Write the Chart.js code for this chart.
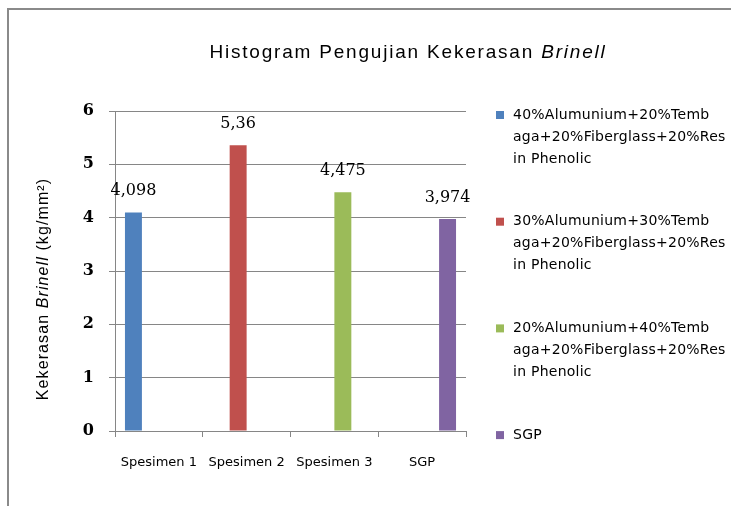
<!DOCTYPE html>
<html><head><meta charset="utf-8">
<script src="https://cdn.jsdelivr.net/npm/chart.js@4"></script>
<style>
html,body{margin:0;padding:0;background:#fff;overflow:hidden;width:731px;height:506px}
#frame{position:absolute;left:7px;top:8px;width:724px;height:498px;border-top:2px solid #8a8a8a;border-left:2px solid #8a8a8a;box-sizing:border-box}
#wrap{position:absolute;left:0;top:0;width:731px;height:506px}
</style></head><body>
<div id="frame"></div>
<div id="wrap"><canvas id="c" width="731" height="506"></canvas></div>
<script>
const categories = ['Spesimen 1', 'Spesimen 2', 'Spesimen 3', 'SGP'];
const seriesLabels = [
  ['40%Alumunium+20%Temb', 'aga+20%Fiberglass+20%Res', 'in Phenolic'],
  ['30%Alumunium+30%Temb', 'aga+20%Fiberglass+20%Res', 'in Phenolic'],
  ['20%Alumunium+40%Temb', 'aga+20%Fiberglass+20%Res', 'in Phenolic'],
  ['SGP']
];
const series1 = [4.098, null, null, null];
const series2 = [null, 5.36, null, null];
const series3 = [null, null, 4.475, null];
const series4 = [null, null, null, 3.974];
const yTicks = [0, 1, 2, 3, 4, 5, 6];
const colors = ['#4F81BD', '#C0504D', '#9BBB59', '#8064A2'];
const titleParts = ['Histogram Pengujian Kekerasan ', 'Brinell'];
const yTitleParts = ['Kekerasan ', 'Brinell', ' (kg/mm²)'];

const seriesData = [series1, series2, series3, series4];
const datasets = seriesData.map((d, i) => ({
  label: seriesLabels[i],
  data: d,
  backgroundColor: colors[i],
  borderWidth: 0,
  barPercentage: 1,
  categoryPercentage: 0.773
}));

function fmt(v) { return String(v).replace('.', ','); }

function drawParts(ctx, parts, fonts, cx, y, spacing) {
  ctx.letterSpacing = spacing;
  let total = 0; const ws = [];
  parts.forEach((p, i) => { ctx.font = fonts[i]; const w = ctx.measureText(p).width; ws.push(w); total += w; });
  let x = cx - total / 2;
  parts.forEach((p, i) => { ctx.font = fonts[i]; ctx.fillText(p, x, y); x += ws[i]; });
  ctx.letterSpacing = '0px';
}

const decor = {
  id: 'decor',
  afterDraw(chart) {
    const ctx = chart.ctx;
    ctx.save();
    ctx.fillStyle = '#000';
    ctx.textAlign = 'left';
    // title
    ctx.textBaseline = 'alphabetic';
    const f1 = '19px "Liberation Sans", Arial, sans-serif';
    const f2 = 'italic 19px "Liberation Sans", Arial, sans-serif';
    drawParts(ctx, titleParts, [f1, f2], 408, 58, '1.8px');

    // y axis title
    ctx.save();
    ctx.translate(44, 289);
    ctx.rotate(-Math.PI / 2);
    ctx.textBaseline = 'middle';
    const fn = '16px "Liberation Sans", Arial, sans-serif';
    const fi = 'italic 16px "Liberation Sans", Arial, sans-serif';
    drawParts(ctx, yTitleParts, [fn, fi, fn], 0, 0, '1.1px');
    ctx.restore();

    // value labels
    ctx.font = '16px "DejaVu Serif", serif';
    ctx.textAlign = 'center';
    ctx.textBaseline = 'alphabetic';
    chart.data.datasets.forEach((ds, di) => {
      const meta = chart.getDatasetMeta(di);
      ds.data.forEach((v, j) => {
        if (v === null) return;
        const el = meta.data[j];
        ctx.fillText(fmt(v), el.x, el.y - 17);
      });
    });

    // legend
    ctx.font = '14px "DejaVu Sans", sans-serif';
    ctx.letterSpacing = '0.25px';
    ctx.textAlign = 'left';
    ctx.textBaseline = 'middle';
    chart.data.datasets.forEach((ds, i) => {
      const y0 = 115 + i * 106.7;
      ctx.fillStyle = ds.backgroundColor;
      ctx.fillRect(496, y0 - 4, 8, 8);
      ctx.fillStyle = '#000';
      const lines = Array.isArray(ds.label) ? ds.label : [ds.label];
      lines.forEach((ln, k) => ctx.fillText(ln, 513, y0 + k * 22));
    });
    ctx.letterSpacing = '0px';
    ctx.restore();
  }
};

new Chart(document.getElementById('c'), {
  type: 'bar',
  data: { labels: categories, datasets },
  options: {
    responsive: false,
    animation: false,
    devicePixelRatio: 1,
    layout: { padding: { top: 111, right: 265, left: 0, bottom: 0 } },
    plugins: { legend: { display: false }, title: { display: false }, tooltip: { enabled: false } },
    scales: {
      x: {
        grid: { drawOnChartArea: false, drawTicks: true, tickLength: 6, color: '#868686', offset: true },
        border: { color: '#868686' },
        ticks: { font: { family: 'DejaVu Sans', size: 13 }, color: '#000', padding: 18, maxRotation: 0, autoSkip: false },
        afterFit: s => { s.height = 75; }
      },
      y: {
        min: 0, max: 6,
        afterBuildTicks: s => { s.ticks = yTicks.map(v => ({ value: v })); },
        ticks: { font: { family: 'DejaVu Serif', size: 16, weight: 'bold' }, color: '#000', padding: 15 },
        grid: { color: '#868686', tickLength: 6 },
        border: { color: '#868686' },
        afterFit: s => { s.width = 115; }
      }
    }
  },
  plugins: [decor]
});
</script>
</body></html>
